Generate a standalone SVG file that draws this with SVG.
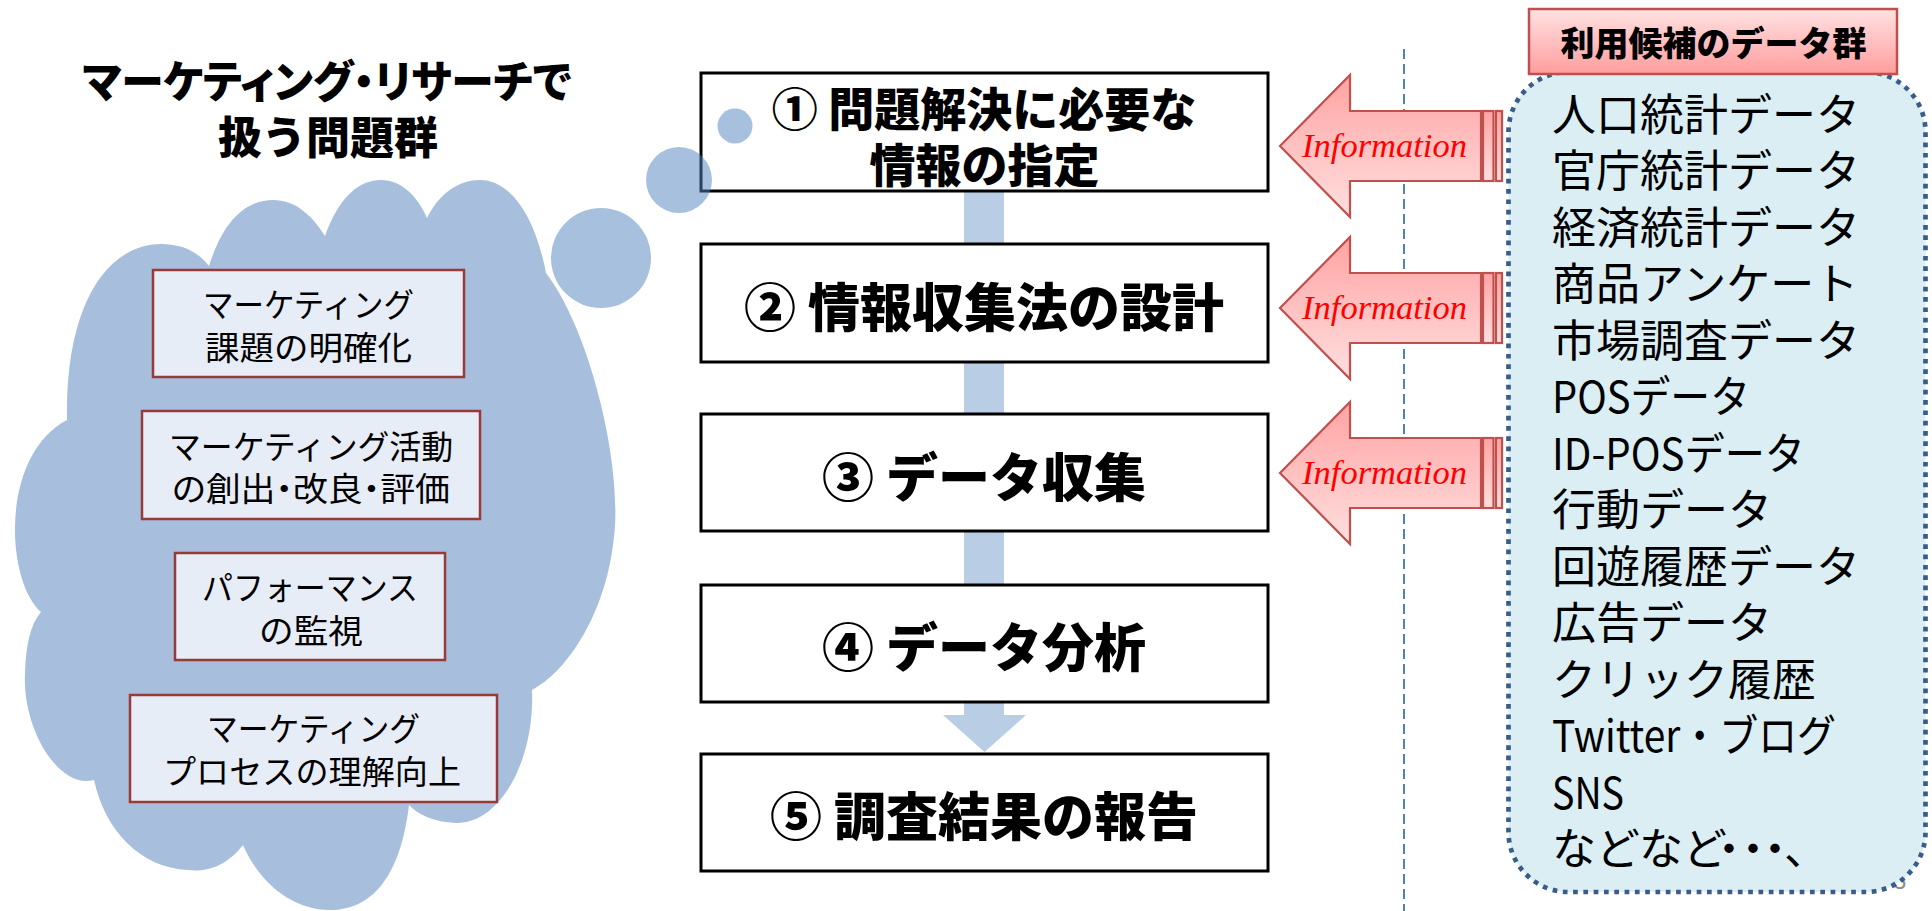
<svg xmlns="http://www.w3.org/2000/svg" width="1932" height="911" viewBox="0 0 1932 911">
<style>
.jp{font-family:"Noto Sans CJK JP","Noto Sans CJK SC",sans-serif;}
.heavy{font-weight:900;fill:#000;}
.palt{font-feature-settings:"palt";}
.flow{font-size:52px;text-anchor:middle;}
.sub{font-size:33px;fill:#000;text-anchor:middle;}
.list{font-size:44px;fill:#000;}
.info{font-family:"Liberation Serif",serif;font-style:italic;font-size:34.5px;fill:#ff0000;text-anchor:middle;}
.fbox{fill:#fff;stroke:#000;stroke-width:3;}
.sbox{fill:#e7edf6;stroke:#993a38;stroke-width:2.5;}
.bub{fill:#4f81bd;fill-opacity:0.5;}
.iarrow{fill:url(#gArrow);stroke:#c0504d;stroke-width:2.2;}
</style>
<defs>
<linearGradient id="gArrow" x1="0" y1="0" x2="0" y2="1">
<stop offset="0" stop-color="#ffa3a3"/>
<stop offset="1" stop-color="#ffdfdf"/>
</linearGradient>
<linearGradient id="gHead" x1="0" y1="0" x2="0" y2="1">
<stop offset="0" stop-color="#ffe2e2"/>
<stop offset="1" stop-color="#ff9d9d"/>
</linearGradient>
</defs>
<rect width="1932" height="911" fill="#fff"/>

<g id="title" class="jp heavy">
<text class="palt" x="327" y="98" font-size="44" text-anchor="middle" textLength="489" lengthAdjust="spacingAndGlyphs">マーケティング・リサーチで</text>
<text x="328" y="154" font-size="44" text-anchor="middle">扱う問題群</text>
</g>

<g id="cloud">
<path fill="#a7bfdd" d="M41,612 C5,580 0,455 67,420 C65,300 110,244 161,244 C185,244 200,254 209,266 C225,215 250,200 273,200 C295,200 312,215 325,236 C340,195 360,180 381,180 C402,180 418,197 427,218 C440,192 460,180 480,180 C510,180 535,215 546,273 C590,330 625,470 613,545 C605,610 570,670 532,690 C535,760 500,825 455,823 C435,822 418,815 409,805 C400,880 370,910 330,910 C290,910 258,880 243,845 C225,868 205,872 188,870 C140,868 105,830 94,780 C60,790 22,730 25,673 C26,645 30,625 41,612 Z"/>
</g>

<g id="issue-1">
<rect class="sbox" x="153" y="270" width="311" height="107"/>
<text class="jp sub" x="308.5" y="316.5" textLength="211" lengthAdjust="spacingAndGlyphs">マーケティング</text>
<text class="jp sub" x="308.5" y="360" textLength="207" lengthAdjust="spacingAndGlyphs">課題の明確化</text>
</g>
<g id="issue-2">
<rect class="sbox" x="142" y="411" width="338" height="108"/>
<text class="jp sub" x="311" y="458.5" textLength="284" lengthAdjust="spacingAndGlyphs">マーケティング活動</text>
<text class="jp sub palt" x="311" y="500.5" textLength="278" lengthAdjust="spacingAndGlyphs">の創出・改良・評価</text>
</g>
<g id="issue-3">
<rect class="sbox" x="175" y="553" width="270" height="107"/>
<text class="jp sub" x="310" y="600" textLength="216" lengthAdjust="spacingAndGlyphs">パフォーマンス</text>
<text class="jp sub" x="311" y="642.5" textLength="104" lengthAdjust="spacingAndGlyphs">の監視</text>
</g>
<g id="issue-4">
<rect class="sbox" x="130" y="695" width="367" height="107"/>
<text class="jp sub" x="313.5" y="740.5" textLength="213" lengthAdjust="spacingAndGlyphs">マーケティング</text>
<text class="jp sub" x="312" y="783.5" textLength="298" lengthAdjust="spacingAndGlyphs">プロセスの理解向上</text>
</g>

<g id="connectors">
<line x1="1404" y1="49" x2="1404" y2="911" stroke="#4f81bd" stroke-width="2" stroke-dasharray="10 5"/>
<path fill="#b9cde5" d="M964,191 L1004,191 L1004,715 L1026,715 L984.5,752 L943,715 L964,715 Z"/>
<g id="info-1">
<path class="iarrow" d="M1280,146 L1350,75 L1350,111 L1481,111 L1481,181 L1350,181 L1350,217 Z"/>
<rect class="iarrow" x="1483" y="111" width="10.5" height="70"/>
<rect class="iarrow" x="1496" y="111" width="6" height="70"/>
<text class="info" x="1384.5" y="157">Information</text>
</g>
<g id="info-2">
<path class="iarrow" d="M1280,308 L1350,237 L1350,273 L1481,273 L1481,343 L1350,343 L1350,379 Z"/>
<rect class="iarrow" x="1483" y="273" width="10.5" height="70"/>
<rect class="iarrow" x="1496" y="273" width="6" height="70"/>
<text class="info" x="1384.5" y="319">Information</text>
</g>
<g id="info-3">
<path class="iarrow" d="M1280,473 L1350,402 L1350,438 L1481,438 L1481,508 L1350,508 L1350,544 Z"/>
<rect class="iarrow" x="1483" y="438" width="10.5" height="70"/>
<rect class="iarrow" x="1496" y="438" width="6" height="70"/>
<text class="info" x="1384.5" y="484">Information</text>
</g>
</g>

<g id="step-1">
<rect class="fbox" x="701" y="73" width="567" height="118"/>
<text class="jp heavy" x="984" y="126" font-size="46" text-anchor="middle">① 問題解決に必要な</text>
<text class="jp heavy" x="984.5" y="181.5" font-size="46" text-anchor="middle">情報の指定</text>
</g>
<g id="step-2">
<rect class="fbox" x="701" y="244" width="567" height="118"/>
<text class="jp heavy flow" x="984" y="327">② 情報収集法の設計</text>
</g>
<g id="step-3">
<rect class="fbox" x="701" y="414" width="567" height="117"/>
<text class="jp heavy flow" x="984" y="497">③ データ収集</text>
</g>
<g id="step-4">
<rect class="fbox" x="701" y="585" width="567" height="117"/>
<text class="jp heavy flow" x="984" y="667">④ データ分析</text>
</g>
<g id="step-5">
<rect class="fbox" x="701" y="754" width="567" height="117"/>
<text class="jp heavy flow" x="984" y="836">⑤ 調査結果の報告</text>
</g>

<g id="bubbles">
<circle class="bub" cx="601" cy="258" r="50"/>
<circle class="bub" cx="679" cy="180" r="33"/>
<circle class="bub" cx="735" cy="126" r="17.5"/>
</g>

<text x="1893" y="889" font-family="Liberation Sans, sans-serif" font-size="24" fill="#8c8c8c">3</text>

<g id="data-list">
<rect x="1508.5" y="72" width="417" height="820" rx="60" ry="60" fill="#daeef3" stroke="#385d8a" stroke-width="4.7" stroke-dasharray="4.7 5.6"/>
<g class="jp list">
<text x="1552" y="130.5">人口統計データ</text>
<text x="1552" y="187">官庁統計データ</text>
<text x="1552" y="243.5">経済統計データ</text>
<text x="1552" y="300">商品アンケート</text>
<text x="1552" y="356.5">市場調査データ</text>
<text x="1552" y="413" textLength="198" lengthAdjust="spacingAndGlyphs">POSデータ</text>
<text x="1552" y="469.5" textLength="253" lengthAdjust="spacingAndGlyphs">ID-POSデータ</text>
<text x="1552" y="526">行動データ</text>
<text x="1552" y="582.5">回遊履歴データ</text>
<text x="1552" y="639">広告データ</text>
<text x="1552" y="695.5">クリック履歴</text>
<text x="1552" y="752" textLength="284" lengthAdjust="spacingAndGlyphs">Twitter・ブログ</text>
<text x="1552" y="808.5" textLength="72" lengthAdjust="spacingAndGlyphs">SNS</text>
<text x="1552" y="865">などなど<tspan x="1707 1731 1753 1784">・・・、</tspan></text>
</g>
</g>

<g id="data-header">
<rect x="1529" y="9" width="368" height="65" fill="url(#gHead)" stroke="#c0504d" stroke-width="2.5"/>
<text class="jp heavy" x="1713.5" y="55.5" font-size="34" text-anchor="middle" font-weight="700">利用候補のデータ群</text>
</g>
</svg>
